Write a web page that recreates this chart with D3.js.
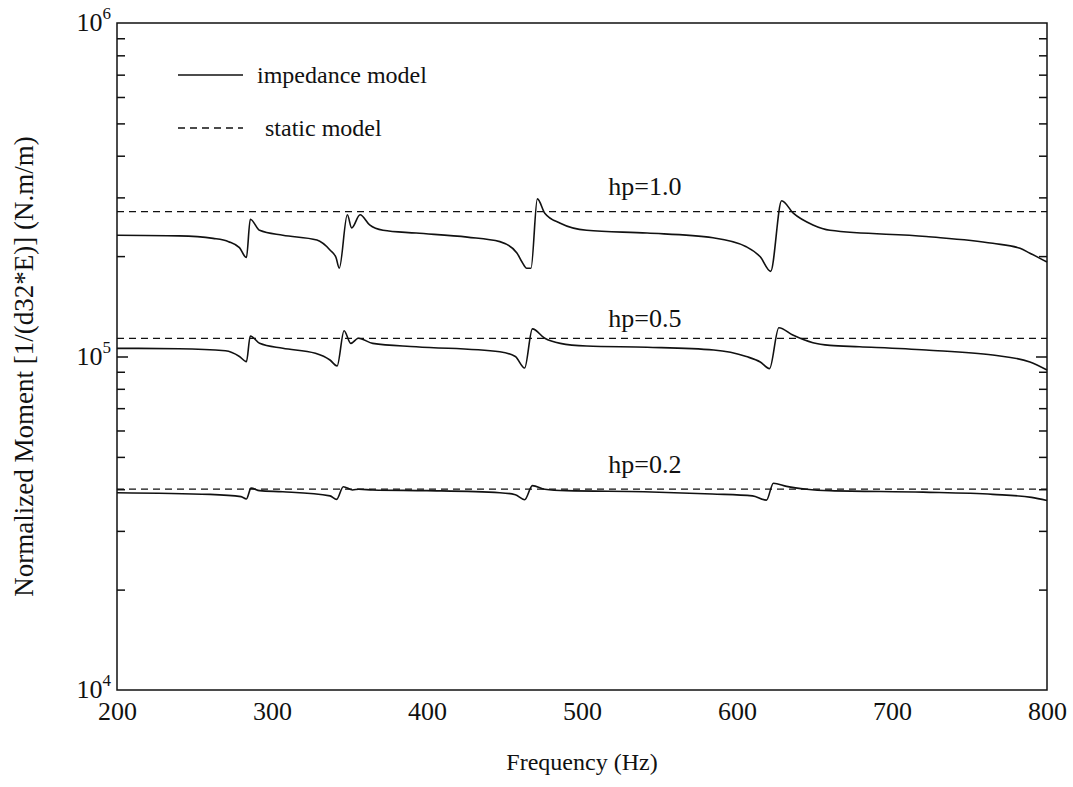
<!DOCTYPE html>
<html>
<head>
<meta charset="utf-8">
<script src="https://cdn.jsdelivr.net/npm/d3@7/dist/d3.min.js"></script>
<style>
  html, body { margin: 0; padding: 0; background: #fff; }
  svg { display: block; }
  text { font-family: "Liberation Serif", "DejaVu Serif", serif; fill: #111; }
</style>
</head>
<body>
<svg id="chart" width="1073" height="787"></svg>
<script>
// Frequency grid (Hz) and normalized moment for each plate thickness ratio
const freqHp10 = [200, 240, 262, 272, 279, 283.5, 286, 292, 307, 329, 337.4, 341.3, 343.4, 348.6, 351.4, 356.8, 363, 371.6, 393, 426, 447, 458, 461.3, 464.3, 467.1, 471.2, 476, 486, 503, 542, 584.5, 606, 615, 621.7, 628.8, 636.3, 649, 660, 722, 765, 782.6, 789, 800];
const momentHp10 = [2.31e5, 2.30e5, 2.26e5, 2.21e5, 2.12e5, 1.98e5, 2.58e5, 2.39e5, 2.31e5, 2.235e5, 2.087e5, 1.98e5, 1.84e5, 2.66e5, 2.43e5, 2.66e5, 2.48e5, 2.39e5, 2.345e5, 2.28e5, 2.21e5, 2.044e5, 1.92e5, 1.84e5, 1.84e5, 2.97e5, 2.69e5, 2.51e5, 2.39e5, 2.345e5, 2.27e5, 2.134e5, 1.99e5, 1.80e5, 2.93e5, 2.69e5, 2.48e5, 2.39e5, 2.29e5, 2.185e5, 2.11e5, 2.04e5, 1.92e5];

const freqHp05 = [200, 240, 270, 279, 283.5, 286, 292, 307, 328, 337.4, 342, 346.5, 350.8, 355.7, 365, 393, 447, 457, 463, 468, 476, 486, 503, 542, 585, 606, 615, 621, 627, 636, 649, 660, 679, 722, 765, 789, 800];
const momentHp05 = [1.058e5, 1.055e5, 1.04e5, 1.0e5, 0.965e5, 1.152e5, 1.095e5, 1.058e5, 1.022e5, 0.976e5, 0.937e5, 1.195e5, 1.095e5, 1.134e5, 1.095e5, 1.07e5, 1.033e5, 1.0e5, 0.924e5, 1.21e5, 1.134e5, 1.095e5, 1.075e5, 1.066e5, 1.046e5, 1.0e5, 0.963e5, 0.92e5, 1.22e5, 1.16e5, 1.10e5, 1.08e5, 1.07e5, 1.046e5, 1.01e5, 0.963e5, 0.911e5];

const freqHp02 = [200, 260, 280, 283.5, 286.5, 292, 307, 337.4, 341.7, 346, 352, 356, 365, 400, 447, 457, 463, 468, 476, 490, 540, 584, 610, 619, 623.5, 632, 645, 660, 720, 765, 790, 800];
const momentHp02 = [3.905e4, 3.86e4, 3.80e4, 3.74e4, 4.03e4, 3.96e4, 3.93e4, 3.82e4, 3.73e4, 4.07e4, 3.98e4, 4.0e4, 3.98e4, 3.96e4, 3.905e4, 3.85e4, 3.72e4, 4.1e4, 4.0e4, 3.96e4, 3.93e4, 3.87e4, 3.82e4, 3.71e4, 4.17e4, 4.08e4, 4.0e4, 3.96e4, 3.92e4, 3.86e4, 3.78e4, 3.70e4];

// Static model gives a frequency-independent moment for each thickness
const staticLabels = ["hp=1.0", "hp=0.5", "hp=0.2"];
const staticMoment = [2.72e5, 1.134e5, 4.0e4];

const xTicks = [200, 300, 400, 500, 600, 700, 800];
const yDecades = [1e4, 1e5, 1e6];
const legendLabels = ["impedance model", "static model"];

const svg = d3.select("#chart");
const mLeft = 117, mRight = 1047, mTop = 23, mBottom = 690;

const x = d3.scaleLinear().domain([200, 800]).range([mLeft, mRight]);
const y = d3.scaleLog().domain([1e4, 1e6]).range([mBottom, mTop]);

const line = d3.line()
  .x(d => x(d[0]))
  .y(d => y(d[1]))
  .curve(d3.curveMonotoneX);

const plot = svg.append("g");

// static model lines
plot.selectAll("line.static")
  .data(staticMoment)
  .join("line")
  .attr("class", "static")
  .attr("x1", x(200)).attr("x2", x(800))
  .attr("y1", d => y(d)).attr("y2", d => y(d))
  .attr("stroke", "#111")
  .attr("stroke-width", 1.3)
  .attr("stroke-dasharray", "7,5");

// impedance model curves
const series = [
  d3.zip(freqHp10, momentHp10),
  d3.zip(freqHp05, momentHp05),
  d3.zip(freqHp02, momentHp02)
];
plot.selectAll("path.imp")
  .data(series)
  .join("path")
  .attr("class", "imp")
  .attr("d", line)
  .attr("fill", "none")
  .attr("stroke", "#111")
  .attr("stroke-width", 1.6)
  .attr("stroke-linejoin", "round");

// curve labels, placed just above each static line
const labelFreq = 517;
const labelBaseline = [195, 327, 473];
plot.selectAll("text.hp")
  .data(staticLabels)
  .join("text")
  .attr("class", "hp")
  .attr("x", x(labelFreq))
  .attr("y", (d, i) => labelBaseline[i])
  .attr("font-size", 26)
  .text(d => d);

// frame
svg.append("rect")
  .attr("x", mLeft).attr("y", mTop)
  .attr("width", mRight - mLeft).attr("height", mBottom - mTop)
  .attr("fill", "none")
  .attr("stroke", "#111")
  .attr("stroke-width", 1.5);

// log-scale ticks, inward on both sides
const yTickVals = y.ticks().filter(v => v > 1e4 && v < 1e6);
const tickLen = v => (yDecades.includes(v) ? 11 : 8);
const yAxisL = svg.append("g").attr("transform", `translate(${mLeft},0)`)
  .call(d3.axisLeft(y).tickValues(yTickVals).tickSizeOuter(0).tickSizeInner(0).tickFormat(""));
yAxisL.select(".domain").remove();
yAxisL.selectAll(".tick line")
  .attr("x2", d => tickLen(d)).attr("stroke", "#111").attr("stroke-width", 1.5);

const yAxisR = svg.append("g").attr("transform", `translate(${mRight},0)`)
  .call(d3.axisRight(y).tickValues(yTickVals).tickSizeOuter(0).tickSizeInner(0).tickFormat(""));
yAxisR.select(".domain").remove();
yAxisR.selectAll(".tick line")
  .attr("x2", d => -tickLen(d)).attr("stroke", "#111").attr("stroke-width", 1.5);

// y tick labels with superscript exponents
const yLab = svg.append("g");
yDecades.forEach(v => {
  const t = yLab.append("text")
    .attr("x", 111).attr("y", y(v) + 8)
    .attr("text-anchor", "end")
    .attr("font-size", 26);
  t.append("tspan").text("10");
  t.append("tspan")
    .attr("font-size", 17)
    .attr("dy", -12)
    .text(Math.round(Math.log10(v)));
});

// x axis labels
const xAxis = svg.append("g").attr("transform", `translate(0,${mBottom})`)
  .call(d3.axisBottom(x).tickValues(xTicks).tickSize(0).tickPadding(12));
xAxis.select(".domain").remove();
xAxis.selectAll("text")
  .attr("font-family", "Liberation Serif")
  .attr("font-size", 26)
  .attr("fill", "#111");

// axis titles
svg.append("text")
  .attr("x", (mLeft + mRight) / 2).attr("y", 770)
  .attr("text-anchor", "middle")
  .attr("font-size", 24)
  .text("Frequency (Hz)");

svg.append("text")
  .attr("transform", `translate(33,${(mTop + mBottom) / 2 + 10}) rotate(-90)`)
  .attr("text-anchor", "middle")
  .attr("font-size", 27)
  .text("Normalized Moment [1/(d32*E)] (N.m/m)");

// legend
const legend = svg.append("g");
const legendRows = [{ y: 75, dash: null, tx: 257 }, { y: 128, dash: "7,5", tx: 265 }];
legendRows.forEach((r, i) => {
  legend.append("line")
    .attr("x1", 178).attr("x2", 243)
    .attr("y1", r.y).attr("y2", r.y)
    .attr("stroke", "#111")
    .attr("stroke-width", i === 0 ? 1.6 : 1.3)
    .attr("stroke-dasharray", r.dash);
  legend.append("text")
    .attr("x", r.tx).attr("y", r.y + 8)
    .attr("font-size", 24)
    .text(legendLabels[i]);
});
</script>
</body>
</html>
